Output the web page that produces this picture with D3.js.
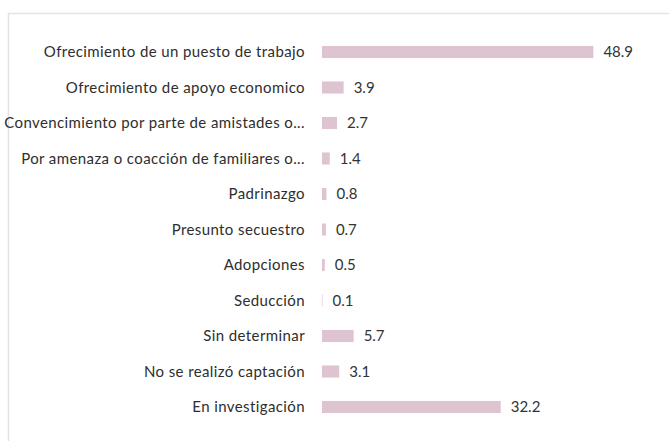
<!DOCTYPE html>
<html>
<head>
<meta charset="utf-8">
<script src="https://cdn.jsdelivr.net/npm/d3@7"></script>
<style>
  html, body { margin: 0; padding: 0; background: #fff; }
  svg { display: block; font-family: Lato, "Open Sans", sans-serif; }
</style>
</head>
<body>
<svg id="chart" width="669" height="441"></svg>
<script>
const categories = [
  'Ofrecimiento de un puesto de trabajo',
  'Ofrecimiento de apoyo economico',
  'Convencimiento por parte de amistades o...',
  'Por amenaza o coacción de familiares o...',
  'Padrinazgo',
  'Presunto secuestro',
  'Adopciones',
  'Seducción',
  'Sin determinar',
  'No se realizó captación',
  'En investigación'
];
const values = [48.9, 3.9, 2.7, 1.4, 0.8, 0.7, 0.5, 0.1, 5.7, 3.1, 32.2];

const svg = d3.select('#chart');

// light frame (top and left edges visible in the scan)
svg.append('path')
  .attr('d', 'M8.5,441V13.5H669')
  .attr('fill', 'none')
  .attr('stroke', '#e4e4e4')
  .attr('stroke-width', 1.5);

const x = d3.scaleLinear().domain([0, 50]).range([322, 599.5]);
const y = d3.scaleBand()
  .domain(categories)
  .range([34.25, 424.75])
  .paddingInner(0.66)
  .paddingOuter(0.33);

const rows = svg.append('g')
  .selectAll('g')
  .data(categories.map((c, i) => ({ name: c, value: values[i] })))
  .enter()
  .append('g');

rows.append('rect')
  .attr('x', x(0))
  .attr('y', d => y(d.name))
  .attr('width', d => x(d.value) - x(0))
  .attr('height', y.bandwidth())
  .attr('fill', '#dec4d0');

rows.append('text')
  .attr('x', x(0) - 17)
  .attr('y', d => y(d.name) + y.bandwidth() / 2)
  .attr('dy', '0.35em')
  .attr('text-anchor', 'end')
  .attr('font-size', 15)
  .attr('letter-spacing', 0.4)
  .attr('fill', '#2e2e2e')
  .text(d => d.name);

rows.append('text')
  .attr('x', d => x(d.value) + 10)
  .attr('y', d => y(d.name) + y.bandwidth() / 2)
  .attr('dy', '0.35em')
  .attr('font-size', 15)
  .attr('fill', '#333')
  .text(d => d.value.toFixed(1));
</script>
</body>
</html>
